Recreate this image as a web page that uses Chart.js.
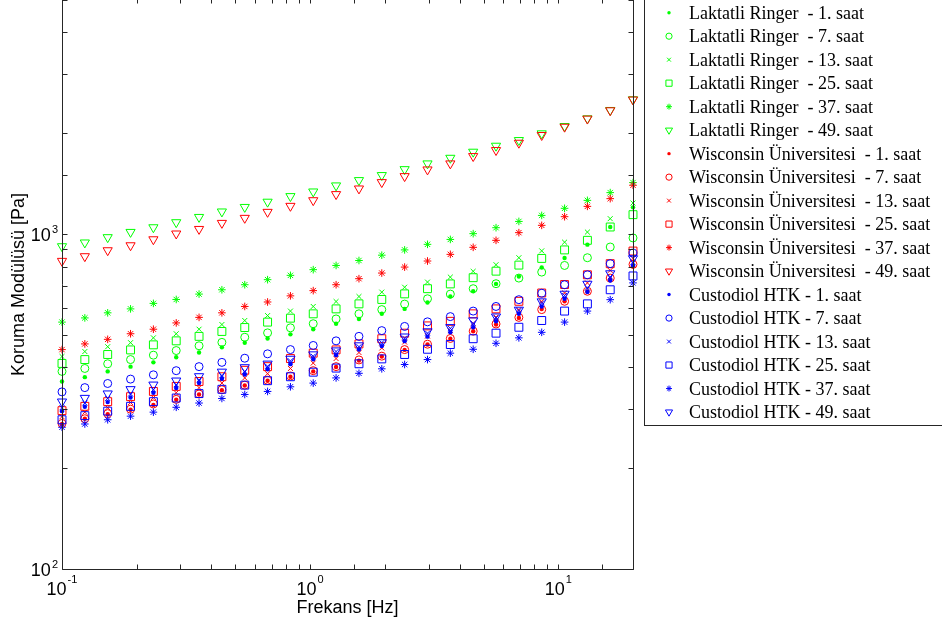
<!DOCTYPE html>
<html>
<head>
<meta charset="utf-8">
<script src="https://cdn.jsdelivr.net/npm/chart.js@4.4.1/dist/chart.umd.min.js"></script>
<style>
  html, body { margin: 0; padding: 0; background: #fff; overflow: hidden; }
  canvas { display: block; }
</style>
</head>
<body>
<canvas id="chart" width="942" height="626"></canvas>
<script>
// frequency sweep (Hz)
const freqHz = [0.1, 0.1236, 0.1528, 0.1889, 0.2335, 0.2886, 0.3567, 0.4409, 0.5451, 0.6737,
  0.8328, 1.029, 1.272, 1.573, 1.944, 2.403, 2.971, 3.672, 4.539, 5.611,
  6.936, 8.573, 10.6, 13.1, 16.19, 20.0];

// storage modulus (Pa) - Laktatli Ringer
const ringer1 = [363, 374, 389, 402, 414, 429, 443, 459, 474, 488, 502, 520, 540, 558, 578, 598, 625, 651, 675, 710, 747, 795, 848, 930, 1050, 1202];
const ringer7 = [389, 397, 410, 422, 435, 449, 464, 475, 492, 507, 525, 540, 558, 578, 595, 618, 641, 662, 687, 711, 739, 770, 806, 850, 915, 974];
const ringer13 = [431, 446, 461, 474, 490, 504, 520, 537, 552, 571, 589, 608, 629, 651, 671, 694, 719, 744, 774, 810, 850, 891, 946, 1014, 1112, 1238];
const ringer25 = [411, 422, 437, 451, 467, 480, 495, 512, 526, 546, 561, 578, 598, 619, 638, 663, 687, 710, 741, 775, 808, 846, 897, 958, 1050, 1143];
const ringer37 = [546, 562, 582, 598, 621, 638, 662, 682, 706, 731, 753, 783, 806, 834, 865, 897, 932, 964, 1003, 1045, 1091, 1137, 1194, 1261, 1330, 1425];
const ringer49 = [919, 943, 978, 1014, 1047, 1084, 1124, 1167, 1204, 1248, 1297, 1339, 1396, 1448, 1499, 1561, 1624, 1688, 1760, 1834, 1907, 1997, 2100, 2214, 2345, 2524];

// Wisconsin Universitesi
const wisc1 = [271, 281, 290, 299, 309, 320, 332, 342, 353, 365, 375, 389, 401, 419, 431, 451, 468, 487, 513, 537, 562, 597, 630, 674, 732, 801];
const wisc7 = [272, 281, 291, 300, 311, 321, 333, 343, 354, 366, 377, 391, 402, 421, 432, 452, 469, 488, 513, 539, 564, 595, 630, 675, 739, 812];
const wisc13 = [285, 294, 303, 314, 325, 336, 348, 359, 372, 383, 397, 412, 425, 443, 457, 476, 496, 515, 541, 565, 595, 629, 667, 715, 779, 846];
const wisc25 = [297, 306, 316, 327, 339, 351, 363, 375, 392, 402, 425, 441, 451, 470, 487, 506, 532, 549, 578, 598, 630, 667, 707, 756, 816, 890];
const wisc37 = [452, 470, 485, 504, 520, 543, 564, 582, 608, 627, 654, 678, 706, 736, 765, 797, 831, 870, 913, 958, 1010, 1062, 1127, 1210, 1276, 1399];
const wisc49 = [831, 858, 894, 925, 964, 1003, 1035, 1079, 1117, 1164, 1213, 1261, 1315, 1367, 1428, 1488, 1558, 1624, 1708, 1780, 1872, 1974, 2090, 2210, 2340, 2520];

// Custodiol HTK
const htk1 = [296, 305, 315, 325, 336, 347, 359, 370, 381, 395, 409, 423, 435, 452, 463, 479, 494, 509, 527, 549, 578, 608, 641, 672, 727, 806];
const htk7 = [338, 348, 358, 369, 380, 391, 402, 414, 426, 439, 452, 465, 480, 495, 515, 530, 547, 567, 589, 608, 637, 666, 706, 756, 816, 877];
const htk13 = [303, 313, 323, 333, 343, 355, 367, 378, 389, 403, 418, 432, 446, 461, 474, 489, 506, 523, 541, 562, 591, 623, 656, 690, 745, 823];
const htk25 = [279, 287, 296, 306, 316, 324, 334, 344, 354, 365, 375, 387, 398, 410, 424, 437, 453, 468, 487, 506, 527, 552, 589, 619, 682, 750];
const htk37 = [265, 271, 279, 286, 294, 304, 313, 323, 332, 339, 350, 359, 372, 384, 396, 408, 422, 441, 453, 472, 490, 509, 546, 589, 637, 715];
const htk49 = [316, 324, 334, 344, 355, 365, 376, 388, 400, 410, 424, 437, 449, 465, 475, 494, 512, 527, 552, 567, 594, 629, 663, 710, 763, 846];

const seriesLabels = [
  'Laktatli Ringer  - 1. saat', 'Laktatli Ringer  - 7. saat', 'Laktatli Ringer  - 13. saat',
  'Laktatli Ringer  - 25. saat', 'Laktatli Ringer  - 37. saat', 'Laktatli Ringer  - 49. saat',
  'Wisconsin Üniversitesi  - 1. saat', 'Wisconsin Üniversitesi  - 7. saat', 'Wisconsin Üniversitesi  - 13. saat',
  'Wisconsin Üniversitesi  - 25. saat', 'Wisconsin Üniversitesi  - 37. saat', 'Wisconsin Üniversitesi  - 49. saat',
  'Custodiol HTK - 1. saat', 'Custodiol HTK - 7. saat', 'Custodiol HTK - 13. saat',
  'Custodiol HTK - 25. saat', 'Custodiol HTK - 37. saat', 'Custodiol HTK - 49. saat'
];
const seriesValues = [ringer1, ringer7, ringer13, ringer25, ringer37, ringer49,
  wisc1, wisc7, wisc13, wisc25, wisc37, wisc49,
  htk1, htk7, htk13, htk25, htk37, htk49];

const xLabel = 'Frekans [Hz]';
const yLabel = 'Koruma Modülüsü [Pa]';

// matlab-ish markers: . o x s * v
const markers = [
  { pointStyle: 'circle', radius: 2.2, fill: true },
  { pointStyle: 'circle', radius: 4 },
  { pointStyle: 'crossRot', radius: 3.5 },
  { pointStyle: 'rect', radius: 5.6 },
  { pointStyle: 'star', radius: 3.8 },
  { pointStyle: 'triangle', radius: 5.3, rotation: 180 }
];
const groupColors = ['#00ff00', '#ff0000', '#0000ff'];

const datasets = seriesValues.map((vals, i) => {
  const m = markers[i % 6];
  const color = groupColors[Math.floor(i / 6)];
  return {
    label: seriesLabels[i],
    data: vals.map((v, k) => ({ x: freqHz[k], y: v })),
    pointStyle: m.pointStyle,
    pointRadius: m.radius,
    pointRotation: m.rotation || 0,
    pointBorderColor: color,
    pointBackgroundColor: m.fill ? color : 'rgba(0,0,0,0)',
    pointBorderWidth: m.fill ? 0 : 1,
    showLine: false,
    clip: false,
    order: seriesValues.length - i
  };
});

function drawMarker(ctx, m, color, x, y, scale) {
  const opts = {
    pointStyle: m.pointStyle,
    radius: m.radius * scale,
    rotation: m.rotation || 0,
    borderWidth: m.fill ? 0 : 1
  };
  ctx.strokeStyle = color;
  ctx.fillStyle = m.fill ? color : 'rgba(0,0,0,0)';
  ctx.lineWidth = 1;
  Chart.helpers.drawPoint(ctx, opts, x, y);
}

function drawPow(ctx, exp, x, baseY, expY, align) {
  ctx.font = '18px "Liberation Sans", Arial, sans-serif';
  const wb = ctx.measureText('10').width;
  ctx.font = '11px "Liberation Sans", Arial, sans-serif';
  const we = ctx.measureText(exp).width;
  const total = wb + 1 + we;
  const start = align === 'center' ? x - total / 2 : x - total;
  ctx.textAlign = 'left';
  ctx.textBaseline = 'alphabetic';
  ctx.font = '18px "Liberation Sans", Arial, sans-serif';
  ctx.fillText('10', start, baseY);
  ctx.font = '11px "Liberation Sans", Arial, sans-serif';
  ctx.fillText(exp, start + wb + 1, expY);
}

const axesPlugin = {
  id: 'matlabAxes',
  afterDraw(chart) {
    const { ctx, chartArea: a, scales: { x, y } } = chart;
    const L = Math.round(a.left) + 0.5, R = Math.round(a.right) + 0.5;
    // top edge sits just above the visible figure, only its ticks show
    const T = Math.round(a.top) - 1.5, B = Math.round(a.bottom) + 0.5;
    const tick = 5;
    ctx.save();
    ctx.strokeStyle = '#262626';
    ctx.lineWidth = 1;
    ctx.beginPath();
    ctx.rect(L, T, R - L, B - T);
    x.ticks.forEach(t => {
      const px = Math.round(x.getPixelForValue(t.value)) + 0.5;
      ctx.moveTo(px, B); ctx.lineTo(px, B - tick);
      ctx.moveTo(px, T); ctx.lineTo(px, T + tick);
    });
    y.ticks.forEach(t => {
      const py = Math.round(y.getPixelForValue(t.value)) + 0.5;
      ctx.moveTo(L, py); ctx.lineTo(L + tick, py);
      ctx.moveTo(R, py); ctx.lineTo(R - tick, py);
    });
    ctx.stroke();

    // decade labels
    ctx.fillStyle = '#000';
    x.ticks.forEach(t => {
      const e = Math.log10(t.value);
      if (Math.abs(e - Math.round(e)) > 1e-6) return;
      drawPow(ctx, String(Math.round(e)), x.getPixelForValue(t.value), 595, 583, 'center');
    });
    y.ticks.forEach(t => {
      const e = Math.log10(t.value);
      if (Math.abs(e - Math.round(e)) > 1e-6) return;
      const py = y.getPixelForValue(t.value);
      drawPow(ctx, String(Math.round(e)), a.left - 4, py + 7, py - 1.5, 'right');
    });

    // axis titles
    ctx.font = '18px "Liberation Sans", Arial, sans-serif';
    ctx.textAlign = 'center';
    ctx.textBaseline = 'alphabetic';
    ctx.fillText(xLabel, (a.left + a.right) / 2, 613);
    ctx.save();
    ctx.translate(24, (a.top + a.bottom) / 2);
    ctx.rotate(-Math.PI / 2);
    ctx.fillText(yLabel, 0, 0);
    ctx.restore();

    // legend box (top runs off the figure like the original)
    ctx.strokeStyle = '#262626';
    ctx.strokeRect(644.5, -20.5, 400, 446);
    const rowY0 = 12.7, rowStep = 23.49;
    chart.data.datasets.forEach((ds, i) => {
      const yy = rowY0 + i * rowStep;
      drawMarker(ctx, markers[i % 6], groupColors[Math.floor(i / 6)], 669, yy, 0.78);
      ctx.fillStyle = '#000';
      ctx.font = '18px "Liberation Serif", "Times New Roman", serif';
      ctx.textAlign = 'left';
      ctx.textBaseline = 'alphabetic';
      ctx.fillText(ds.label, 689, yy + 6);
    });
    ctx.restore();
  }
};

new Chart(document.getElementById('chart'), {
  type: 'scatter',
  data: { datasets },
  options: {
    responsive: false,
    animation: false,
    devicePixelRatio: 1,
    events: [],
    layout: { autoPadding: false, padding: { left: 62, right: 309, top: 0, bottom: 57 } },
    plugins: { legend: { display: false }, tooltip: { enabled: false } },
    scales: {
      x: { type: 'logarithmic', min: 0.1, max: 20, display: false },
      y: { type: 'logarithmic', min: 100, max: 5000, display: false }
    }
  },
  plugins: [axesPlugin]
});
</script>
</body>
</html>
